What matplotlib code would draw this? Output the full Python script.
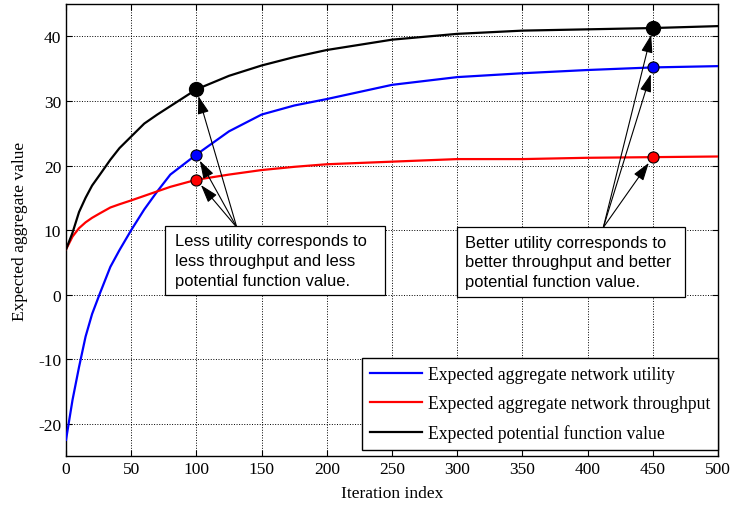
import matplotlib
matplotlib.use("Agg")
import matplotlib.pyplot as plt
from matplotlib.patches import Rectangle

plt.rcParams["axes.unicode_minus"] = False

# values
iters = [0, 5, 10, 15, 20, 26, 34, 41, 50, 60, 70, 80, 100, 125, 150, 175, 200, 250, 300, 350, 400, 450, 500]
utility = [-22.5, -16.3, -11.2, -6.5, -3.0, 0.2, 4.3, 6.9, 10.0, 13.2, 16.0, 18.6, 21.7, 25.3, 27.9, 29.3, 30.3, 32.5, 33.7, 34.3, 34.8, 35.2, 35.4]
throughput = [7.0, 9.0, 10.3, 11.2, 11.9, 12.6, 13.5, 14.0, 14.6, 15.3, 16.0, 16.7, 17.8, 18.6, 19.3, 19.8, 20.2, 20.6, 21.0, 21.0, 21.2, 21.3, 21.4]
potential = [7.0, 9.6, 12.8, 15.0, 16.9, 18.6, 20.9, 22.7, 24.5, 26.5, 27.9, 29.2, 31.8, 33.9, 35.5, 36.8, 37.9, 39.5, 40.4, 40.9, 41.1, 41.3, 41.6]

labels = ["Expected aggregate network utility",
          "Expected aggregate network throughput",
          "Expected potential function value"]
colors = ["blue", "red", "black"]

mark_x = [100, 450]
mark_util = [21.7, 35.2]
mark_thr = [17.8, 21.3]
mark_pot = [31.8, 41.3]

note_left = "Less utility corresponds to\nless throughput and less\npotential function value."
note_right = "Better utility corresponds to\nbetter throughput and better\npotential function value."

fig = plt.figure(figsize=(7.31, 5.06), dpi=100)
ax = fig.add_axes([0.0903, 0.0968, 0.892, 0.893])

serif = "Liberation Serif"
sans = "Liberation Sans"
fs = 12.5

for ys, c, lab in zip([utility, throughput, potential], colors, labels):
    ax.plot(iters, ys, color=c, lw=1.6, label=lab, zorder=3)

# markers at iteration 100 and 450
ax.plot(mark_x, mark_pot, "o", ms=10, mfc="black", mec="black", zorder=5)
ax.plot(mark_x, mark_util, "o", ms=8, mfc="blue", mec="black", mew=0.8, zorder=5)
ax.plot(mark_x, mark_thr, "o", ms=8, mfc="red", mec="black", mew=0.8, zorder=5)

aprops = dict(arrowstyle="-|>,head_length=1.1,head_width=0.35", color="black",
              lw=0.8, shrinkA=0, shrinkB=5)
for i, tail in enumerate([(131, 10.4), (412, 10.4)]):
    for yv in [mark_pot[i], mark_util[i], mark_thr[i]]:
        ax.annotate("", xy=(mark_x[i], yv), xytext=tail, arrowprops=aprops, zorder=6)

# note boxes (axes fraction)
for (x0, x1, y0, y1), tx, note in [((0.152, 0.489, 0.356, 0.509), 0.167, note_left),
                                   ((0.600, 0.949, 0.352, 0.507), 0.612, note_right)]:
    ax.add_patch(Rectangle((x0, y0), x1 - x0, y1 - y0, transform=ax.transAxes,
                           fc="white", ec="black", lw=0.9, zorder=7))
    ax.text(tx, (y0 + y1) / 2, note, transform=ax.transAxes, family=sans,
            fontsize=11.9, va="center", ha="left", linespacing=1.4, zorder=8)

ax.set_xlim(0, 500)
ax.set_ylim(-25, 45)
ax.set_xticks(range(0, 501, 50))
ax.set_yticks(range(-20, 41, 10))
ax.grid(True, color="black", ls=":", lw=0.7)
ax.tick_params(direction="in", top=True, right=True, length=4, labelsize=fs)
for lab in ax.get_xticklabels() + ax.get_yticklabels():
    lab.set_family(serif)
for sp in ax.spines.values():
    sp.set_linewidth(1.0)

ax.set_xlabel("Iteration index", family=serif, fontsize=fs, labelpad=6)
ax.set_ylabel("Expected aggregate value", family=serif, fontsize=fs, labelpad=7)

leg = ax.legend(loc="lower right", bbox_to_anchor=(1.0, 0.013), borderaxespad=0,
                prop={"family": serif, "size": 12.7}, fancybox=False,
                edgecolor="black", framealpha=1, handlelength=2.9,
                handletextpad=0.35, labelspacing=0.68, borderpad=0.45)
leg.get_frame().set_linewidth(1.0)
leg.set_zorder(9)

fig.savefig("out.png", dpi=100)
